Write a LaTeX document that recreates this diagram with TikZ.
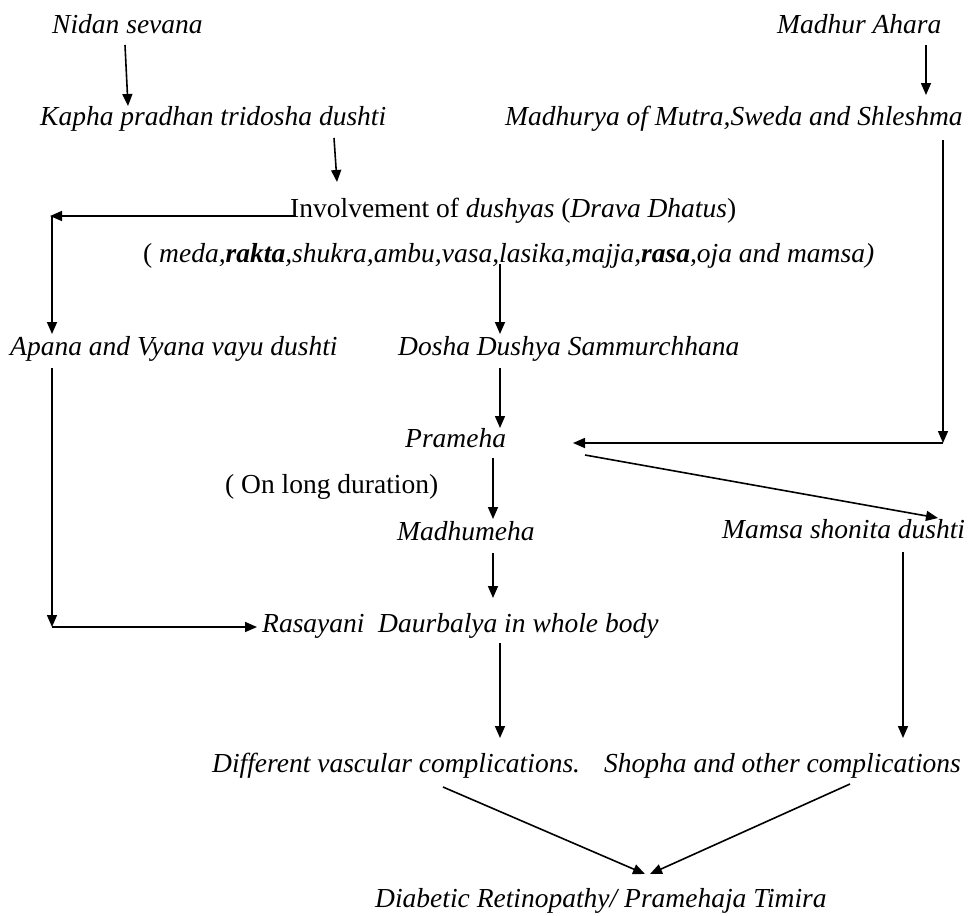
\documentclass[tikz,border=0pt]{standalone}
\usepackage{fontspec}
\setmainfont{Liberation Serif}
\usetikzlibrary{arrows.meta}
\begin{document}
\begin{tikzpicture}[x=1pt,y=-1pt,
  lbl/.style={inner sep=0pt, anchor=base west, font=\fontsize{27.5}{30}\selectfont\itshape},
  ulbl/.style={inner sep=0pt, anchor=base west, font=\fontsize{27.5}{30}\selectfont\upshape},
  arr/.style={line width=1.6pt, -{Triangle[length=12pt,width=10pt]}},
  ln/.style={line width=1.6pt}]
\useasboundingbox[fill=white] (0,0) rectangle (970,916);
% nodes
\node[lbl] (nidan) at (52,33) {Nidan sevana};
\node[lbl] (madhur) at (777,33) {Madhur Ahara};
\node[lbl] (kapha) at (40,125) {Kapha pradhan tridosha dushti};
\node[lbl] (madhurya) at (505,125) {Madhurya of Mutra,Sweda and Shleshma};
\node[ulbl] (inv) at (290,217) {Involvement of \textit{dushyas} (\textit{Drava Dhatus})};
\node[lbl] (dushyas) at (143,262) {{\upshape(} meda,\textbf{rakta},shukra,ambu,vasa,lasika,majja,\textbf{rasa},oja and mamsa)};
\node[lbl] (apana) at (10,355) {Apana and Vyana vayu dushti};
\node[lbl] (dosha) at (398,355) {Dosha Dushya Sammurchhana};
\node[lbl] (prameha) at (405,447) {Prameha};
\node[ulbl] (long) at (225,493) {( On long duration)};
\node[lbl] (madhumeha) at (397,540) {Madhumeha};
\node[lbl] (mamsa) at (722,538) {Mamsa shonita dushti};
\node[lbl] (rasayani) at (262,632) {Rasayani};
\node[lbl] (daur) at (378,632) {Daurbalya in whole body};
\node[lbl] (diff) at (212,772) {Different vascular complications.};
\node[lbl] (shopha) at (604,772) {Shopha and other complications};
\node[lbl] (diab) at (375,907) {Diabetic Retinopathy/ Pramehaja Timira};
% connector end points
\coordinate (n1) at (125,45);   \coordinate (k1) at (128,106);
\coordinate (k2) at (334,138);  \coordinate (i1) at (337,182);
\coordinate (i2) at (296,216);  \coordinate (c1) at (50,216);
\coordinate (c1b) at (52,216);  \coordinate (ap1) at (52,334);
\coordinate (d1) at (500,264);  \coordinate (ds1) at (500,334);
\coordinate (ds2) at (500,368); \coordinate (p1) at (500,428);
\coordinate (m1) at (926,45);   \coordinate (my1) at (926,95);
\coordinate (my2) at (943,140); \coordinate (c2) at (943,443);
\coordinate (p2) at (573,443);
\coordinate (p3) at (585,455);  \coordinate (ms1) at (938,518);
\coordinate (p4) at (493,458);  \coordinate (mh1) at (493,519);
\coordinate (mh2) at (493,553); \coordinate (db1) at (493,598);
\coordinate (ap2) at (52,368);  \coordinate (c3) at (52,627);
\coordinate (r1) at (257,627);
\coordinate (db2) at (500,643); \coordinate (df1) at (500,738);
\coordinate (ms2) at (903,552); \coordinate (sh1) at (903,738);
\coordinate (df2) at (443,787); \coordinate (dr1) at (645,874);
\coordinate (sh2) at (850,784); \coordinate (dr2) at (650,874);
% connectors
\draw[arr] (n1) -- (k1);
\draw[arr] (k2) -- (i1);
\draw[arr] (i2) -- (c1);
\draw[arr] (c1b) -- (ap1);
\draw[arr] (d1) -- (ds1);
\draw[arr] (ds2) -- (p1);
\draw[arr] (m1) -- (my1);
\draw[arr] (my2) -- (c2);
\draw[arr] (c2) -- (p2);
\draw[arr] (p3) -- (ms1);
\draw[arr] (p4) -- (mh1);
\draw[arr] (mh2) -- (db1);
\draw[arr] (ap2) -- (c3);
\draw[arr] (c3) -- (r1);
\draw[arr] (db2) -- (df1);
\draw[arr] (ms2) -- (sh1);
\draw[arr] (df2) -- (dr1);
\draw[arr] (sh2) -- (dr2);
\end{tikzpicture}
\end{document}
